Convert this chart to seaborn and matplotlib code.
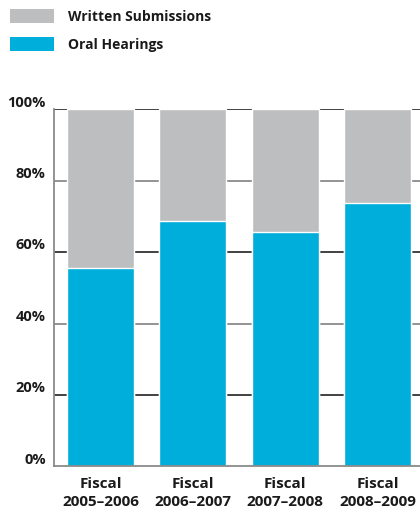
import matplotlib
matplotlib.use("Agg")
import matplotlib.pyplot as plt
import matplotlib.transforms as mtransforms
from matplotlib.patches import Patch
import seaborn as sns
import pandas as pd

categories = ["Fiscal\n2005\u20132006", "Fiscal\n2006\u20132007", "Fiscal\n2007\u20132008", "Fiscal\n2008\u20132009"]
oral_hearings = [55.5, 68.7, 65.6, 73.7]
written_submissions = [100 - v for v in oral_hearings]
ytick_values = [0, 20, 40, 60, 80, 100]
ytick_labels = ["0%", "20%", "40%", "60%", "80%", "100%"]

BLUE = "#00AEDB"
GRAY = "#BDBEC0"

sns.set_theme(style="white")
plt.rcParams["font.family"] = ["Open Sans", "DejaVu Sans"]
plt.rcParams["font.weight"] = "bold"

df = pd.DataFrame({
    "period": categories,
    "oral": oral_hearings,
    "total": [o + w for o, w in zip(oral_hearings, written_submissions)],
})

fig = plt.figure(figsize=(4.2, 5.13), dpi=100)
ax = fig.add_axes([54 / 420, 1 - 466.3 / 513, 1 - 54 / 420, 357 / 513])

# gridlines (alternating dark / gray) behind bars
grid_colors = {20: "#333333", 40: "#8a8a8a", 60: "#333333", 80: "#8a8a8a", 100: "#333333"}
for yv, c in grid_colors.items():
    ax.axhline(yv, color=c, lw=1.3, zorder=0)

sns.barplot(data=df, x="period", y="total", color=GRAY, width=0.726,
            saturation=1, ax=ax, zorder=2)
sns.barplot(data=df, x="period", y="oral", color=BLUE, width=0.726,
            saturation=1, ax=ax, zorder=3)

ax.set_xlim(-0.504, 3.46)
ax.set_ylim(0, 100)
ax.set_xlabel("")
ax.set_ylabel("")
ax.set_yticks(ytick_values)
ax.set_yticklabels(ytick_labels, fontsize=10.5, fontweight="bold", color="#1a1a1a")
ax.tick_params(axis="y", length=0, pad=6)
ax.tick_params(axis="x", length=0, pad=8, labelsize=11, labelcolor="#1a1a1a")
for lab in ax.get_xticklabels():
    lab.set_fontweight("bold")
    lab.set_linespacing(1.3)

offset = mtransforms.ScaledTranslation(0, 2 / 72, fig.dpi_scale_trans)
for lab in ax.get_yticklabels():
    lab.set_verticalalignment("baseline")
    lab.set_transform(lab.get_transform() + offset)

for side in ["top", "right"]:
    ax.spines[side].set_visible(False)
ax.spines["left"].set_color("#8a8a8a")
ax.spines["left"].set_linewidth(1.3)
ax.spines["bottom"].set_color("#8a8a8a")
ax.spines["bottom"].set_linewidth(1.3)
ax.spines["left"].set_zorder(4)
ax.spines["bottom"].set_zorder(4)

handles = [Patch(facecolor=GRAY, edgecolor="none", label="Written Submissions"),
           Patch(facecolor=BLUE, edgecolor="none", label="Oral Hearings")]
fs = 10
fs_px = fs * 100 / 72
leg = fig.legend(handles=handles, loc="upper left",
                 bbox_to_anchor=(10 / 420, 1 - 9 / 513), bbox_transform=fig.transFigure,
                 frameon=False, borderpad=0, borderaxespad=0,
                 handlelength=44 / fs_px, handleheight=17 / fs_px,
                 handletextpad=14 / fs_px, labelspacing=13 / fs_px,
                 prop={"size": fs, "weight": "bold"})
for t in leg.get_texts():
    t.set_color("#1a1a1a")

fig.savefig("out.png", dpi=100)
